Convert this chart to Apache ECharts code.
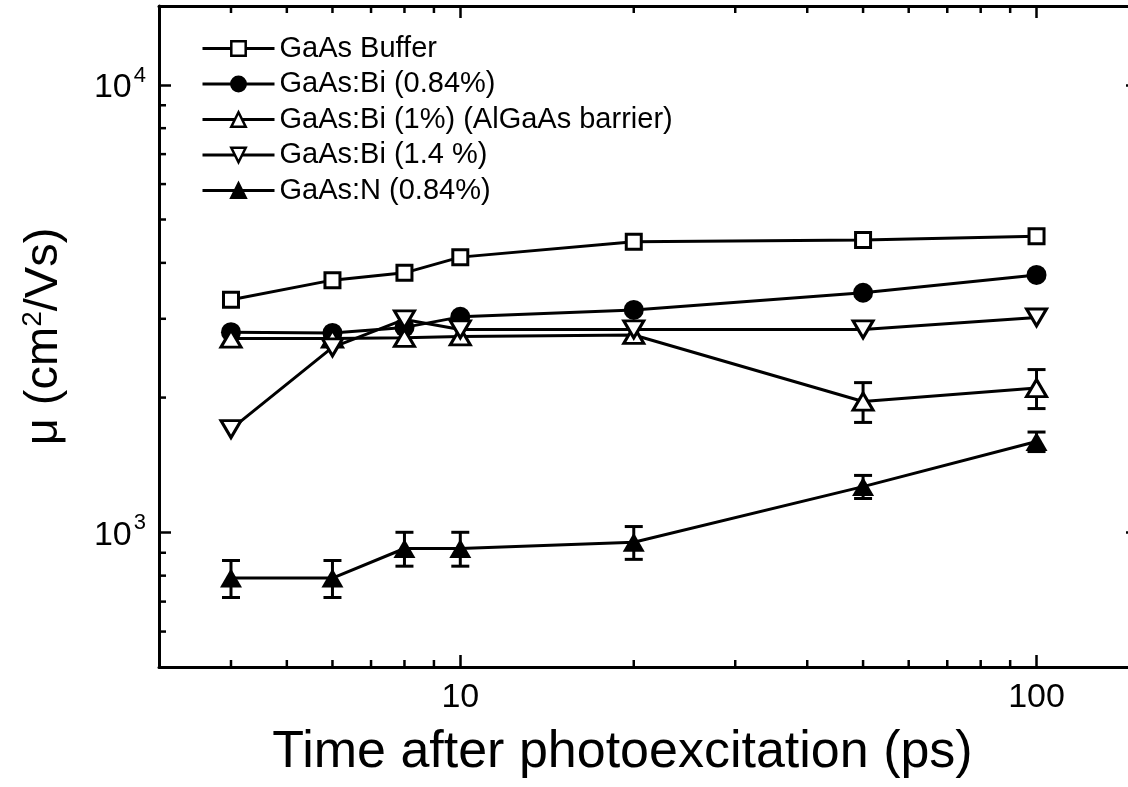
<!DOCTYPE html>
<html><head><meta charset="utf-8">
<script src="https://cdn.jsdelivr.net/npm/echarts@6/dist/echarts.min.js"></script>
<style>html,body{margin:0;padding:0;background:#fff;overflow:hidden}#c{width:1146px;height:787px}</style>
</head><body><div id="c"></div>
<script>
// ---- data ----
const times = [4, 6, 8, 10, 20, 50, 100];
const seriesNames = ['GaAs Buffer', 'GaAs:Bi (0.84%)', 'GaAs:Bi (1%) (AlGaAs barrier)', 'GaAs:Bi (1.4 %)', 'GaAs:N (0.84%)'];
const gaasBuffer = [3310, 3660, 3800, 4120, 4460, 4500, 4590];
const gaasBi084 = [2800, 2790, 2870, 3030, 3140, 3430, 3760];
const gaasBi1 = [2710, 2710, 2720, 2740, 2760, 1960, 2100];
const gaasBi1Err = [null, null, null, null, null, 200, 210];
const gaasBi14 = [1700, 2590, 2990, 2840, 2840, 2840, 3020];
const gaasN084 = [790, 790, 920, 920, 950, 1265, 1595];
const gaasN084Err = [75, 75, 80, 80, 80, 75, 80];
const xMinorTicks = [4, 5, 6, 7, 8, 9, 20, 30, 40, 50, 60, 70, 80, 90];
const yMinorTicks = [600, 700, 800, 900, 2000, 3000, 4000, 5000, 6000, 7000, 8000, 9000];

const FONT = '"Liberation Sans", Arial, sans-serif';
const BLACK = '#000';
const LW = 3;
const pairs = ys => times.map((t, i) => [t, ys[i]]);
const errData = (ys, es) => times.map((t, i) => es[i] == null ? null : [t, ys[i] - es[i], ys[i] + es[i]]).filter(d => d);

function errRender(params, api) {
  const x = api.value(0);
  const p1 = api.coord([x, api.value(1)]);
  const p2 = api.coord([x, api.value(2)]);
  const w = 9;
  const st = { stroke: BLACK, lineWidth: LW };
  return { type: 'group', children: [
    { type: 'line', shape: { x1: p1[0], y1: p1[1], x2: p2[0], y2: p2[1] }, style: st },
    { type: 'line', shape: { x1: p1[0] - w, y1: p1[1], x2: p1[0] + w, y2: p1[1] }, style: st },
    { type: 'line', shape: { x1: p2[0] - w, y1: p2[1], x2: p2[0] + w, y2: p2[1] }, style: st }
  ]};
}
function xMinorRender(params, api) {
  const cs = params.coordSys;
  const px = api.coord([api.value(0), 1000])[0];
  const st = { stroke: BLACK, lineWidth: 2.5 };
  const b = cs.y + cs.height, t = cs.y;
  return { type: 'group', children: [
    { type: 'line', shape: { x1: px, y1: b, x2: px, y2: b - 7 }, style: st },
    { type: 'line', shape: { x1: px, y1: t, x2: px, y2: t + 7 }, style: st }
  ]};
}
function yMinorRender(params, api) {
  const cs = params.coordSys;
  const py = api.coord([10, api.value(1)])[1];
  const st = { stroke: BLACK, lineWidth: 2.5 };
  const l = cs.x, r = cs.x + cs.width;
  return { type: 'group', children: [
    { type: 'line', shape: { x1: l, y1: py, x2: l + 7, y2: py }, style: st },
    { type: 'line', shape: { x1: r, y1: py, x2: r - 7, y2: py }, style: st }
  ]};
}

const isPow10 = v => Math.abs(Math.log10(v) - Math.round(Math.log10(v))) < 1e-9;
const axisLineStyle = { color: BLACK, width: 3 };
const tickStyle = { show: true, inside: true, length: 12, lineStyle: { color: BLACK, width: 2.5 } };

const lineSeries = (name, data, symbol, size, filled, extra) => Object.assign({
  name, type: 'line', data: pairs(data), symbol, symbolSize: size,
  lineStyle: { color: BLACK, width: LW },
  itemStyle: { color: filled ? BLACK : '#fff', borderColor: BLACK, borderWidth: filled ? 0 : LW },
  emphasis: { disabled: true }, z: 3, clip: false
}, extra || {});

const chart = echarts.init(document.getElementById('c'), null, { renderer: 'canvas' });
chart.setOption({
  animation: false,
  backgroundColor: '#fff',
  textStyle: { fontFamily: FONT },
  grid: { left: 159, top: 6, width: 979, height: 661, containLabel: false },
  legend: {
    data: seriesNames, orient: 'vertical', left: 201, top: 34, padding: 0,
    itemWidth: 72, itemHeight: 18, itemGap: 6.5,
    lineStyle: { width: 3, color: BLACK },
    itemStyle: { borderWidth: 2.5, borderColor: BLACK },
    textStyle: { fontSize: 29, color: BLACK, fontFamily: FONT, lineHeight: 29 },
    selectedMode: false
  },
  xAxis: [{
    type: 'log', logBase: 10, min: 3, max: 150, position: 'bottom',
    axisLine: { lineStyle: axisLineStyle }, axisTick: tickStyle, splitLine: { show: false },
    axisLabel: { formatter: v => isPow10(v) ? String(Math.round(v)) : '', fontSize: 34, color: BLACK, margin: 14, fontFamily: FONT, showMinLabel: false, showMaxLabel: false },
    name: 'Time after photoexcitation (ps)', nameLocation: 'middle', nameGap: 60,
    nameTextStyle: { fontSize: 52, color: BLACK, fontFamily: FONT, padding: [0, 52, 0, 0] }
  }, {
    type: 'log', logBase: 10, min: 3, max: 150, position: 'top',
    axisLine: { lineStyle: axisLineStyle }, axisTick: tickStyle, splitLine: { show: false }, axisLabel: { show: false }
  }],
  yAxis: [{
    type: 'log', logBase: 10, min: 500, max: 15000, position: 'left',
    axisLine: { lineStyle: axisLineStyle }, axisTick: tickStyle, splitLine: { show: false },
    axisLabel: {
      formatter: v => isPow10(v) ? '{b|10}{s|' + Math.round(Math.log10(v)) + '}' : '',
      margin: 13, showMinLabel: false, showMaxLabel: false,
      rich: { b: { fontSize: 34, color: BLACK, fontFamily: FONT, lineHeight: 40, verticalAlign: 'bottom' },
              s: { fontSize: 22, color: BLACK, fontFamily: FONT, lineHeight: 40, verticalAlign: 'top', padding: [0, 0, 0, 2] } }
    },
    name: 'μ (cm{s|2}/Vs)', nameLocation: 'middle', nameGap: 90,
    nameTextStyle: { fontSize: 47, color: BLACK, fontFamily: FONT, padding: [0, 0, 0, 0],
      rich: { s: { fontSize: 28, color: BLACK, fontFamily: FONT, verticalAlign: 'top', lineHeight: 50 } } }
  }, {
    type: 'log', logBase: 10, min: 500, max: 15000, position: 'right',
    axisLine: { lineStyle: axisLineStyle }, axisTick: tickStyle, splitLine: { show: false }, axisLabel: { show: false }
  }],
  series: [
    { type: 'custom', name: 'xminor', renderItem: xMinorRender, data: xMinorTicks.map(v => [v, 1000]), silent: true, z: 5, clip: false },
    { type: 'custom', name: 'yminor', renderItem: yMinorRender, data: yMinorTicks.map(v => [10, v]), silent: true, z: 5, clip: false },
    { type: 'custom', name: 'errBi1', renderItem: errRender, data: errData(gaasBi1, gaasBi1Err), encode: { x: 0, y: [1, 2] }, silent: true, z: 1 },
    { type: 'custom', name: 'errN', renderItem: errRender, data: errData(gaasN084, gaasN084Err), encode: { x: 0, y: [1, 2] }, silent: true, z: 1 },
    lineSeries(seriesNames[0], gaasBuffer, 'rect', 15, false),
    lineSeries(seriesNames[1], gaasBi084, 'circle', 20, true),
    lineSeries(seriesNames[2], gaasBi1, 'triangle', [20, 17], false),
    lineSeries(seriesNames[3], gaasBi14, 'triangle', [20, 17], false, { symbolRotate: 180 }),
    lineSeries(seriesNames[4], gaasN084, 'triangle', [22, 19], true)
  ]
});
</script>
</body></html>
